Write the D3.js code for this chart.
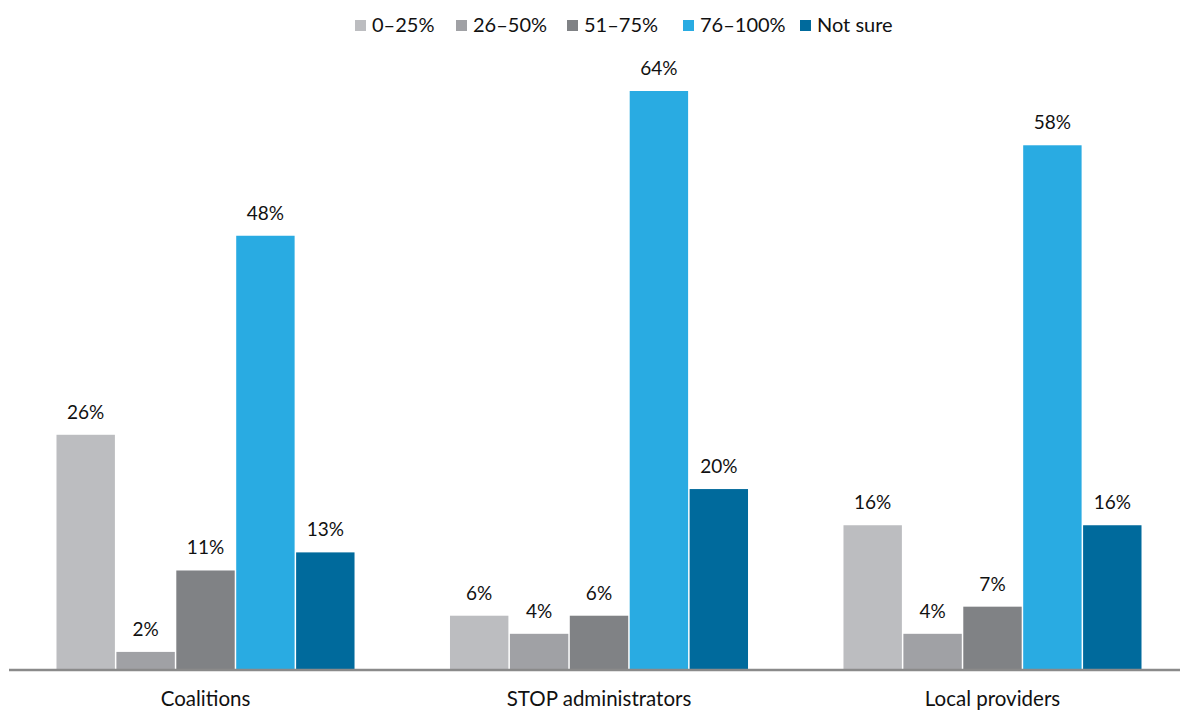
<!DOCTYPE html>
<html><head><meta charset="utf-8">
<script src="https://cdn.jsdelivr.net/npm/d3@7"></script>
<style>body{margin:0;background:#fff}svg{display:block}text{font-family:Lato,"Open Sans",sans-serif;fill:#111}</style>
</head><body><div id="chart"></div>
<script>
const categories = ["Coalitions", "STOP administrators", "Local providers"];
const seriesNames = ["0–25%", "26–50%", "51–75%", "76–100%", "Not sure"];
const values = {
  "0–25%": [26, 6, 16],
  "26–50%": [2, 4, 4],
  "51–75%": [11, 6, 7],
  "76–100%": [48, 64, 58],
  "Not sure": [13, 20, 16]
};
const colors = ["#BCBDC0", "#A0A1A5", "#808285", "#29ABE2", "#006A9C"];

const W = 1180, H = 710;
const svg = d3.select("#chart").append("svg").attr("width", W).attr("height", H);
const baseY = 670;
const x0 = d3.scaleBand().domain(categories).range([55, 1143]).paddingInner(0.235).paddingOuter(0);
const x1 = d3.scaleBand().domain(seriesNames).range([0, x0.bandwidth()]).padding(0.025);
const y = d3.scaleLinear().domain([0, 64]).range([baseY, 91]);
const color = d3.scaleOrdinal().domain(seriesNames).range(colors);

const g = svg.append("g");
categories.forEach((c, ci) => {
  const gg = g.append("g").attr("transform", `translate(${x0(c)},0)`);
  seriesNames.forEach(s => {
    const v = values[s][ci];
    gg.append("rect").attr("x", x1(s)).attr("width", x1.bandwidth())
      .attr("y", y(v)).attr("height", baseY - y(v)).attr("fill", color(s));
    gg.append("text").attr("x", x1(s) + x1.bandwidth() / 2).attr("y", y(v) - 16)
      .attr("text-anchor", "middle").attr("font-size", 19).text(v + "%");
  });
});

const xAxis = svg.append("g").attr("transform", `translate(0,${baseY})`)
  .call(d3.axisBottom(x0).tickSize(0).tickPadding(21));
xAxis.select(".domain").remove();
xAxis.append("line").attr("x1", 9).attr("x2", 1180).attr("y1", 0).attr("y2", 0)
  .attr("stroke", "#8a8a8a").attr("stroke-width", 2.5);
xAxis.selectAll("text").attr("font-size", 20.5).style("font-family", "Lato, 'Open Sans', sans-serif").attr("fill", "#111");

const legendX = [355, 456, 567, 683, 800];
const lg = svg.append("g");
seriesNames.forEach((s, i) => {
  lg.append("rect").attr("x", legendX[i]).attr("y", 20).attr("width", 11).attr("height", 11).attr("fill", color(s));
  lg.append("text").attr("x", legendX[i] + 17).attr("y", 32).attr("font-size", 20).text(s);
});
</script></body></html>
